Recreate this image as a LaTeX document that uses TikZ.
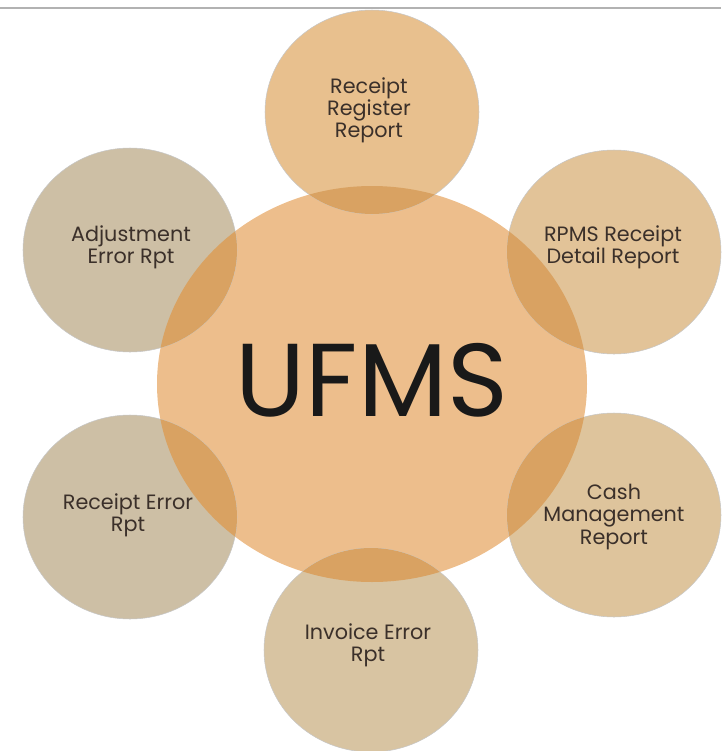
\documentclass[tikz,border=0pt]{standalone}
\usepackage{fontspec}
\setmainfont{Poppins}
\usetikzlibrary{calc}
\definecolor{hubfill}{HTML}{EDBE8C}
\definecolor{lensfill}{HTML}{D9A262}
\definecolor{toppetal}{HTML}{E8C08E}
\definecolor{warmpetal}{HTML}{E2C398}
\definecolor{sandpetal}{HTML}{DEC49C}
\definecolor{lowpetal}{HTML}{D8C4A2}
\definecolor{greypetal}{HTML}{CDBFA5}
\definecolor{labeltext}{HTML}{3B302A}
\tikzset{
  petaltext/.style={align=center, text=labeltext, font=\fontsize{11.8}{12.6}\selectfont},
  hubtext/.style={text=black!90, font=\fontsize{59}{60}\selectfont}
}
\def\hubpath{(372,384) ellipse [x radius=215, y radius=198]}

\begin{document}
\begin{tikzpicture}[x=0.02cm, y=-0.02cm]
			%%%%% START %%%%%
			\useasboundingbox (0,0) rectangle (721,751);
			
			\draw[line width=1.2pt, color=black!30] (0,8) -- (721,8);
			
			\fill[hubfill] \hubpath;
			
			% petals: x, y, colour
			\foreach \px/\py/\pc in {372/112/toppetal, 614/252/warmpetal, 130/250/greypetal, 130/517/greypetal, 614/515/sandpetal, 371/650/lowpetal}{
				\filldraw[fill=\pc, draw=black!22, line width=0.3pt] (\px,\py) ellipse [x radius=107, y radius=102];
				\begin{scope}
					\clip \hubpath;
					\fill[lensfill] (\px,\py) ellipse [x radius=107, y radius=102];
				\end{scope}
			}
			
			\node[hubtext] (ufms) at (372,380) {UFMS};
			
			\node[petaltext] (register) at (369,110) {Receipt\\Register\\Report};
			\node[petaltext] (rpms) at (613,247) {RPMS Receipt\\Detail Report};
			\node[petaltext] (adjust) at (131,247) {Adjustment\\Error Rpt};
			\node[petaltext] (recerr) at (128,515) {Receipt Error\\Rpt};
			\node[petaltext] (cash) at (614,517) {Cash\\Management\\Report};
			\node[petaltext] (invoice) at (368,645) {Invoice Error\\Rpt};
			
			%%%%% END %%%%%
\end{tikzpicture}
\end{document}
